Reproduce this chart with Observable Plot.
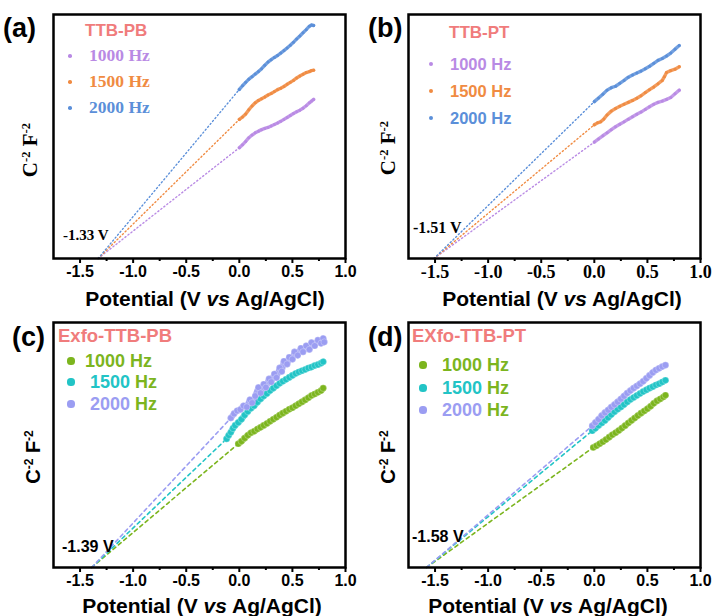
<!DOCTYPE html>
<html><head><meta charset="utf-8">
<script src="https://cdn.jsdelivr.net/npm/d3@7"></script>
<script src="https://cdn.jsdelivr.net/npm/@observablehq/plot@0.6"></script>
<style>
body{margin:0;background:#fff;}
#root{position:relative;width:715px;height:616px;overflow:hidden;font-family:"Liberation Sans",Arial,sans-serif;}
.abs{position:absolute;white-space:nowrap;line-height:1;font-weight:bold;}
.abs sup{font-size:0.6em;vertical-align:0.55em;}
#root svg{position:absolute;overflow:visible;}
</style></head><body><div id="root"></div>
<script>
// ---------- data ----------
const frequencies = ["1000 Hz", "1500 Hz", "2000 Hz"];
const xTicks = [-1.5, -1.0, -0.5, 0.0, 0.5, 1.0];
const xMinorTicks = [-1.25, -0.75, -0.25, 0.25, 0.75];
const panelLetters = ["(a)", "(b)", "(c)", "(d)"];
const sampleNames = ["TTB-PB", "TTB-PT", "Exfo-TTB-PB", "EXfo-TTB-PT"];
const intercepts = [-1.33, -1.51, -1.39, -1.58];
const interceptLabels = ["-1.33 V", "-1.51 V", "-1.39 V", "-1.58 V"];

// panel (a)
const potA = [0,.03,.06,.09,.12,.15,.18,.21,.24,.27,.30,.33,.36,.39,.42,.45,.48,.51,.54,.57,.60,.63,.66,.68,.70];
const a1000 = [.454,.466,.480,.495,.506,.515,.522,.528,.533,.537,.543,.549,.555,.562,.570,.578,.586,.594,.601,.608,.616,.626,.638,.645,.652];
const a1500 = [.570,.580,.592,.610,.625,.638,.648,.655,.662,.670,.676,.684,.692,.698,.705,.714,.722,.730,.740,.748,.755,.762,.766,.770,.772];
const a2000 = [.693,.708,.722,.735,.745,.756,.766,.778,.792,.805,.815,.824,.832,.842,.852,.863,.874,.886,.900,.912,.925,.938,.952,.957,.955];

// panel (b)
const potB1000 = [0,.04,.08,.12,.16,.20,.24,.28,.32,.36,.40,.44,.48,.52,.56,.60,.64,.68,.72,.76,.80];
const b1000 = [.477,.490,.503,.515,.528,.540,.550,.560,.571,.581,.591,.600,.611,.622,.632,.640,.645,.652,.660,.675,.690];
const potB1500 = [0,.03,.06,.09,.12,.16,.20,.24,.28,.32,.36,.40,.44,.48,.52,.56,.60,.64,.66,.68,.72,.76,.80];
const b1500 = [.548,.556,.560,.572,.588,.604,.615,.624,.632,.640,.648,.657,.667,.680,.692,.703,.716,.730,.745,.762,.770,.776,.786];
const potB2000 = [0,.04,.08,.12,.16,.20,.24,.28,.32,.36,.40,.44,.48,.52,.56,.60,.64,.68,.72,.76,.80];
const b2000 = [.643,.658,.673,.690,.700,.706,.718,.730,.743,.752,.760,.768,.778,.788,.800,.812,.820,.830,.842,.858,.873];

// panel (c)
const potC1000 = [-.01,.02,.05,.08,.11,.14,.17,.20,.23,.26,.29,.32,.35,.38,.41,.44,.47,.50,.53,.56,.59,.62,.65,.68,.71,.74,.77,.79];
const c1000 = [.505,.515,.528,.540,.550,.556,.565,.572,.580,.588,.597,.605,.613,.622,.630,.638,.646,.652,.660,.668,.676,.684,.693,.702,.708,.715,.722,.732];
const potC1500 = [-.12,-.10,-.08,-.06,-.04,-.01,.02,.05,.08,.11,.14,.17,.20,.23,.26,.29,.32,.35,.38,.41,.44,.47,.50,.53,.56,.59,.62,.65,.68,.71,.74,.77,.79];
const c1500 = [.525,.540,.552,.568,.580,.592,.605,.622,.637,.650,.660,.675,.688,.700,.710,.722,.732,.742,.752,.760,.768,.776,.784,.792,.798,.803,.808,.814,.818,.824,.828,.834,.840];
const potC2000 = [-.08,-.05,-.02,.01,.04,.07,.10,.12,.15,.18,.20,.23,.25,.28,.30,.33,.35,.38,.40,.42,.45,.47,.50,.52,.55,.58,.60,.63,.66,.68,.71,.74,.77,.79,.80];
const c2000 = [.610,.628,.640,.645,.660,.655,.685,.672,.700,.735,.712,.748,.735,.770,.757,.790,.775,.815,.800,.842,.830,.858,.850,.880,.866,.895,.880,.905,.890,.918,.905,.928,.915,.935,.920];

// panel (d)
const potD1000 = [-.01,.02,.05,.08,.11,.14,.17,.20,.23,.26,.29,.32,.35,.38,.41,.44,.47,.50,.53,.56,.59,.62,.65,.67];
const d1000 = [.490,.497,.505,.513,.522,.532,.542,.550,.559,.569,.579,.590,.600,.610,.620,.630,.639,.648,.658,.670,.680,.688,.696,.703];
const potD1500 = [-.02,.01,.04,.07,.10,.13,.16,.19,.22,.25,.28,.31,.34,.37,.40,.43,.46,.49,.52,.55,.58,.61,.64,.67];
const d1500 = [.558,.568,.580,.590,.600,.612,.624,.636,.646,.655,.665,.676,.686,.694,.702,.710,.718,.725,.732,.738,.745,.750,.757,.764];
const potD2000 = [-.02,.01,.04,.07,.10,.13,.16,.19,.22,.25,.28,.31,.34,.37,.40,.43,.46,.49,.52,.55,.58,.61,.64,.67];
const d2000 = [.578,.592,.605,.620,.632,.643,.655,.665,.676,.688,.700,.712,.722,.732,.741,.750,.760,.772,.784,.796,.806,.813,.820,.826];

// colours
const colorsAB = ["#b98ae4", "#f08b42", "#5b8fd9"];
const colorsCD = ["#7cb51e", "#22c4c6", "#9b9df2"];
const titleColor = "#f07c7c";

// ---------- drawing ----------
const root = document.getElementById("root");
const SERIF = '"Liberation Serif","Times New Roman",serif';
const SANS = '"Liberation Sans",Arial,sans-serif';

function panel(o) {
  const marks = [];
  o.series.forEach(s => {
    const pts = s.x.map((x, i) => ({x, y: s.y[i]}));
    const fit = [{x: o.intercept, y: 0}, {x: pts[0].x, y: pts[0].y}];
    marks.push(Plot.line(fit, {x: "x", y: "y", stroke: s.color, strokeWidth: o.fitW, strokeDasharray: o.dash}));
  });
  o.series.forEach(s => {
    const pts = s.x.map((x, i) => ({x, y: s.y[i]}));
    if (o.lineW) marks.push(Plot.line(pts, {x: "x", y: "y", stroke: s.color, strokeWidth: o.lineW, strokeOpacity: o.lineOp}));
    marks.push(Plot.dot(pts, {x: "x", y: "y", r: o.dotR, fill: s.color, stroke: o.dotStroke ? "white" : "none", strokeOpacity: 0.35, strokeWidth: 0.8}));
  });
  marks.push(Plot.axisX({ticks: xTicks, tickSize: 5, tickPadding: 2, strokeWidth: 2, tickFormat: d => d.toFixed(1), label: null}));
  marks.push(Plot.axisX({ticks: xMinorTicks, tickSize: 3, strokeWidth: 2, tickFormat: () => "", label: null}));
  marks.push(Plot.frame({stroke: "black", strokeWidth: 2.5}));
  const svg = Plot.plot({
    width: 357, height: 300,
    marginLeft: 53, marginRight: 12, marginTop: 14, marginBottom: 300 - 14 - o.ph,
    x: {domain: [-1.75, 1.0]},
    y: {domain: [0, 1], axis: null},
    style: {color: "black", background: "transparent"},
    marks
  });
  svg.querySelectorAll("text").forEach(t => {
    t.style.fontFamily = o.tickFont;
    t.style.fontSize = o.tickSize + "px";
    t.style.fontWeight = "bold";
  });
  svg.style.left = o.left + "px";
  svg.style.top = o.top + "px";
  root.appendChild(svg);
}

function txt(html, x, y, css, center) {
  const d = document.createElement("div");
  d.className = "abs";
  d.innerHTML = html;
  d.style.left = x + "px";
  d.style.top = y + "px";
  d.style.transform = center ? "translate(-50%,-50%)" : "translateY(-50%)";
  Object.assign(d.style, css || {});
  root.appendChild(d);
  return d;
}
function sym(cx, cy, r, color) {
  const d = document.createElement("div");
  d.style.cssText = `position:absolute;left:${cx - r}px;top:${cy - r}px;width:${2*r}px;height:${2*r}px;border-radius:50%;background:${color};`;
  root.appendChild(d);
}
function ylab(cx, cy, font, size) {
  const d = txt("C<sup>-2</sup> F<sup>-2</sup>", cx, cy, {fontFamily: font, fontSize: size + "px"}, true);
  d.style.transform = "translate(-50%,-50%) rotate(-90deg)";
}
const xLabelHtml = "Potential (V <i>vs</i> Ag/AgCl)";

// panel (a)
panel({left: 0, top: 0, ph: 244, intercept: intercepts[0], fitW: 1.4, dash: "1.2,2.6", lineW: 3.4, lineOp: 0.85, dotR: 1.5, tickSize: 16, tickFont: SANS,
  series: [{x: potA, y: a1000, color: colorsAB[0]}, {x: potA, y: a1500, color: colorsAB[1]}, {x: potA, y: a2000, color: colorsAB[2]}]});
// panel (b)
panel({left: 355, top: 0, ph: 244, intercept: intercepts[1], fitW: 1.4, dash: "1.2,2.6", lineW: 3.4, lineOp: 0.85, dotR: 1.5, tickSize: 18, tickFont: SERIF,
  series: [{x: potB1000, y: b1000, color: colorsAB[0]}, {x: potB1500, y: b1500, color: colorsAB[1]}, {x: potB2000, y: b2000, color: colorsAB[2]}]});
// panel (c)
panel({left: 0, top: 308, ph: 245, intercept: intercepts[2], fitW: 1.6, dash: "3.5,3.5", lineW: 6, lineOp: 0.9, dotR: 3.3, dotStroke: true, tickSize: 16, tickFont: SANS,
  series: [{x: potC1000, y: c1000, color: colorsCD[0]}, {x: potC1500, y: c1500, color: colorsCD[1]}, {x: potC2000, y: c2000, color: colorsCD[2]}]});
// panel (d)
panel({left: 355, top: 308, ph: 245, intercept: intercepts[3], fitW: 1.6, dash: "3.5,3.5", lineW: 6, lineOp: 0.9, dotR: 3.3, dotStroke: true, tickSize: 16, tickFont: SANS,
  series: [{x: potD1000, y: d1000, color: colorsCD[0]}, {x: potD1500, y: d1500, color: colorsCD[1]}, {x: potD2000, y: d2000, color: colorsCD[2]}]});

// panel letters
[[3, 28], [368, 28], [12, 337], [368, 337]].forEach(([x, y], i) => txt(panelLetters[i], x, y, {fontSize: "27px", fontFamily: SANS}));

// titles
txt(sampleNames[0], 85, 30, {fontSize: "17px", color: titleColor, fontFamily: SANS});
txt(sampleNames[1], 449, 32, {fontSize: "17px", color: titleColor, fontFamily: SANS});
txt(sampleNames[2], 58, 336, {fontSize: "18.5px", color: titleColor, fontFamily: SANS});
txt(sampleNames[3], 412, 336, {fontSize: "18.5px", color: titleColor, fontFamily: SANS});

// legends
[56, 82, 108].forEach((y, i) => { sym(70, y, 1.8, colorsAB[i]); txt(frequencies[i], 89, y, {fontSize: "17.5px", color: colorsAB[i], fontFamily: SERIF}); });
[64, 91, 118].forEach((y, i) => { sym(431, y, 2.3, colorsAB[i]); txt(frequencies[i], 450, y, {fontSize: "16.5px", color: colorsAB[i], fontFamily: SANS}); });
function cdLegend(ys, sx, tx) {
  ys.forEach((y, i) => {
    sym(sx, y, 3.6, colorsCD[i]);
    const [num, unit] = frequencies[i].split(" ");
    const html = i === 0 ? `<span style="color:${colorsCD[0]}">${frequencies[i]}</span>`
      : `<span style="color:${colorsCD[i]}">${num}</span> <span style="color:${colorsCD[0]}">${unit}</span>`;
    txt(html, tx[i], y, {fontSize: "18px", fontFamily: SANS});
  });
}
cdLegend([361, 382, 404], 71, [85, 90, 90]);
cdLegend([365, 388, 410], 423, [442, 442, 442]);

// intercept labels
txt(interceptLabels[0], 63, 235, {fontSize: "15px", fontFamily: SERIF});
txt(interceptLabels[1], 413, 228, {fontSize: "16px", fontFamily: SERIF});
txt(interceptLabels[2], 62, 547, {fontSize: "16px", fontFamily: SANS});
txt(interceptLabels[3], 412, 537, {fontSize: "16px", fontFamily: SANS});

// axis titles
ylab(30, 150, SERIF, 21); ylab(388, 148, SERIF, 21);
ylab(33, 457, SANS, 20); ylab(388, 457, SANS, 20);
txt(xLabelHtml, 205, 298, {fontSize: "21px", fontFamily: SANS}, true);
txt(xLabelHtml, 562, 298, {fontSize: "21px", fontFamily: SANS}, true);
txt(xLabelHtml, 202, 605, {fontSize: "21px", fontFamily: SANS}, true);
txt(xLabelHtml, 548, 605, {fontSize: "21px", fontFamily: SANS}, true);
</script></body></html>
